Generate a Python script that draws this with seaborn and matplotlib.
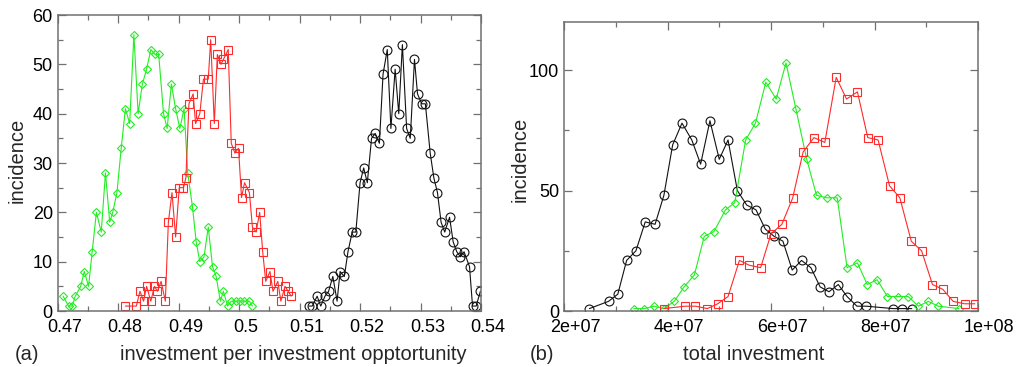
import numpy as np
import pandas as pd
import matplotlib
matplotlib.use("Agg")
import matplotlib.pyplot as plt
import matplotlib.transforms as mtransforms
from matplotlib.ticker import MultipleLocator, FormatStrFormatter
import seaborn as sns

# ---------------- data: panel (a) ----------------
a_green_x = [0.4709, 0.4718, 0.4724, 0.4729, 0.4738, 0.4744, 0.4751, 0.4757, 0.4764, 0.4772,
             0.4779, 0.4786, 0.4791, 0.4798, 0.4805, 0.4812, 0.4819, 0.4826, 0.4833, 0.4840,
             0.4847, 0.4854, 0.4861, 0.4867, 0.4875, 0.4881, 0.4888, 0.4895, 0.4902, 0.4909,
             0.4915, 0.4923, 0.4929, 0.4935, 0.4942, 0.4949, 0.4956, 0.4962, 0.4969, 0.4974,
             0.4981, 0.4987, 0.4995, 0.5002, 0.5008, 0.5017, 0.5022]
a_green_y = [3, 1, 1, 3, 5, 8, 5, 12, 20, 16, 28, 18, 20, 24, 33, 41, 38, 56, 40, 46,
             49, 53, 52, 52, 40, 37, 46, 41, 37, 41, 28, 21, 14, 10, 11, 17, 9, 7, 2, 4,
             1, 2, 2, 2, 2, 2, 1]

a_red_x = [0.4812, 0.4830, 0.4836, 0.4842, 0.4847, 0.4854, 0.4860, 0.4865, 0.4871, 0.4878,
           0.4883, 0.4889, 0.4895, 0.4901, 0.4908, 0.4912, 0.4917, 0.4924, 0.4928, 0.4935,
           0.4941, 0.4949, 0.4953, 0.4959, 0.4964, 0.4970, 0.4974, 0.4982, 0.4987, 0.4993,
           0.4999, 0.5004, 0.5009, 0.5017, 0.5022, 0.5028, 0.5034, 0.5039, 0.5044, 0.5051,
           0.5056, 0.5064, 0.5069, 0.5076, 0.5081, 0.5086]
a_red_y = [1, 1, 4, 2, 5, 2, 5, 4, 6, 2, 18, 24, 15, 25, 25, 27, 42, 44, 38, 40,
           47, 47, 55, 38, 52, 50, 51, 53, 34, 32, 33, 23, 26, 24, 17, 16, 20, 12, 6, 8,
           4, 6, 2, 5, 4, 3]

a_black_x = [0.5116, 0.5121, 0.5129, 0.5135, 0.5142, 0.5148, 0.5155, 0.5162, 0.5167, 0.5174,
             0.5180, 0.5187, 0.5193, 0.5200, 0.5206, 0.5212, 0.5219, 0.5225, 0.5232, 0.5238,
             0.5245, 0.5251, 0.5258, 0.5264, 0.5270, 0.5277, 0.5283, 0.5290, 0.5295, 0.5302,
             0.5308, 0.5316, 0.5322, 0.5328, 0.5334, 0.5340, 0.5348, 0.5354, 0.5360, 0.5366,
             0.5372, 0.5381, 0.5386, 0.5392, 0.5399]
a_black_y = [1, 1, 3, 1, 3, 4, 7, 2, 8, 7, 12, 16, 16, 26, 29, 26, 35, 36, 34, 48,
             53, 37, 49, 40, 54, 37, 35, 51, 44, 42, 42, 32, 27, 24, 18, 16, 19, 14, 12, 11,
             12, 9, 1, 1, 4]

# ---------------- data: panel (b) ----------------
b_black_x = [2.49e7, 2.86e7, 3.04e7, 3.21e7, 3.39e7, 3.57e7, 3.76e7, 3.93e7, 4.10e7, 4.28e7,
             4.47e7, 4.64e7, 4.82e7, 5.00e7, 5.17e7, 5.35e7, 5.53e7, 5.71e7, 5.89e7, 6.06e7,
             6.23e7, 6.41e7, 6.59e7, 6.77e7, 6.95e7, 7.12e7, 7.30e7, 7.47e7, 7.66e7, 7.84e7,
             8.36e7, 8.54e7, 8.72e7]
b_black_y = [1, 4, 7, 21, 25, 37, 36, 48, 69, 78, 71, 61, 79, 63, 71, 50, 44, 42, 34, 31,
             29, 17, 21, 18, 10, 8, 11, 6, 2, 2, 1, 1, 1]

b_green_x = [3.35e7, 3.55e7, 3.74e7, 3.93e7, 4.13e7, 4.32e7, 4.52e7, 4.71e7, 4.90e7, 5.12e7,
             5.30e7, 5.51e7, 5.70e7, 5.90e7, 6.10e7, 6.29e7, 6.48e7, 6.69e7, 6.88e7, 7.08e7,
             7.28e7, 7.47e7, 7.67e7, 7.86e7, 8.05e7, 8.25e7, 8.45e7, 8.65e7, 8.85e7, 9.04e7,
             9.23e7, 9.63e7]
b_green_y = [1, 1, 2, 1, 4, 10, 15, 31, 33, 42, 45, 71, 78, 95, 88, 103, 84, 63, 48, 47,
             47, 18, 20, 11, 13, 6, 6, 6, 2, 4, 2, 1]

b_red_x = [3.93e7, 4.34e7, 4.54e7, 4.77e7, 4.97e7, 5.17e7, 5.39e7, 5.58e7, 5.80e7, 6.00e7,
           6.21e7, 6.42e7, 6.62e7, 6.83e7, 7.04e7, 7.26e7, 7.46e7, 7.67e7, 7.87e7, 8.07e7,
           8.29e7, 8.49e7, 8.71e7, 8.91e7, 9.12e7, 9.32e7, 9.52e7, 9.74e7, 9.94e7]
b_red_y = [1, 2, 2, 1, 3, 6, 21, 19, 18, 32, 36, 47, 66, 72, 70, 97, 88, 91, 72, 71,
           52, 47, 29, 25, 11, 9, 4, 3, 3]

x_label_a = "investment per investment opptortunity"
x_label_b = "total investment"
y_label = "incidence"

# ---------------- style ----------------
sns.set_theme(style="ticks")
plt.rcParams["font.family"] = ["Liberation Sans", "DejaVu Sans"]

GREEN = "#22ee22"
RED = "#ff2a2a"
BLACK = "#111111"
SPINE = "#707070"

W, H = 1026, 367
fig = plt.figure(figsize=(W / 100, H / 100), dpi=100)
fig.patch.set_facecolor("white")


def px_axes(x0, y0, x1, y1):
    return fig.add_axes([x0 / W, 1 - y1 / H, (x1 - x0) / W, (y1 - y0) / H])


axA = px_axes(57.7, 15, 481, 311)
axB = px_axes(564, 22, 978, 311)

series_style = dict(lw=0.8, mew=0.8, mfc="none")


def draw(ax, x, y, color, marker, ms):
    df = pd.DataFrame({"x": x, "y": y})
    sns.lineplot(data=df, x="x", y="y", ax=ax, color=color, marker=marker,
                 markersize=ms, markeredgecolor=color, sort=False, estimator=None,
                 **series_style)


draw(axA, a_black_x, a_black_y, BLACK, "o", 6.4)
draw(axA, a_green_x, a_green_y, GREEN, "D", 4.0)
draw(axA, a_red_x, a_red_y, RED, "s", 5.3)

draw(axB, b_black_x, b_black_y, BLACK, "o", 6.4)
draw(axB, b_green_x, b_green_y, GREEN, "D", 4.0)
draw(axB, b_red_x, b_red_y, RED, "s", 5.3)

axA.set_xlim(0.47, 0.54)
axA.set_ylim(0, 60)
axA.xaxis.set_major_locator(MultipleLocator(0.01))
axA.xaxis.set_minor_locator(MultipleLocator(0.005))
axA.yaxis.set_major_locator(MultipleLocator(10))
axA.yaxis.set_minor_locator(MultipleLocator(5))
axA.xaxis.set_major_formatter(FormatStrFormatter("%g"))

axB.set_xlim(2e7, 1e8)
axB.set_ylim(0, 120)
axB.xaxis.set_major_locator(MultipleLocator(2e7))
axB.xaxis.set_minor_locator(MultipleLocator(1e7))
axB.yaxis.set_major_locator(MultipleLocator(50))
axB.yaxis.set_minor_locator(MultipleLocator(25))
axB.xaxis.set_major_formatter(FormatStrFormatter("%g"))

for ax, dx in ((axA, 7), (axB, 11)):
    ax.set_xlabel("")
    ax.set_ylabel("")
    ax.set_facecolor("white")
    for s in ax.spines.values():
        s.set_visible(True)
        s.set_color(SPINE)
        s.set_linewidth(1.1)
    ax.tick_params(which="both", direction="in", top=True, right=True,
                   color=SPINE, width=0.9, labelsize=13, labelcolor="black")
    ax.tick_params(which="major", length=5.5)
    ax.tick_params(which="minor", length=3.5)
    ax.tick_params(axis="x", which="major", pad=5.5)
    ax.tick_params(axis="y", which="major", pad=3.5)
    offset = mtransforms.ScaledTranslation(dx / 100, 0, fig.dpi_scale_trans)
    for lab in ax.get_xticklabels():
        lab.set_transform(lab.get_transform() + offset)

# labels placed in pixel coordinates
fig.text(120 / W, 1 - 360 / H, x_label_a, fontsize=14.5, ha="left", va="baseline")
fig.text(683 / W, 1 - 360 / H, x_label_b, fontsize=14.5, ha="left", va="baseline")
fig.text(15 / W, 1 - 360 / H, "(a)", fontsize=14.5, ha="left", va="baseline")
fig.text(530 / W, 1 - 360 / H, "(b)", fontsize=14.5, ha="left", va="baseline")
fig.text(17 / W, 1 - 160 / H, y_label, fontsize=14.5, rotation=90, ha="center", va="center")
fig.text(520 / W, 1 - 159 / H, y_label, fontsize=14.5, rotation=90, ha="center", va="center")

fig.savefig("out.png", dpi=100, facecolor="white")
